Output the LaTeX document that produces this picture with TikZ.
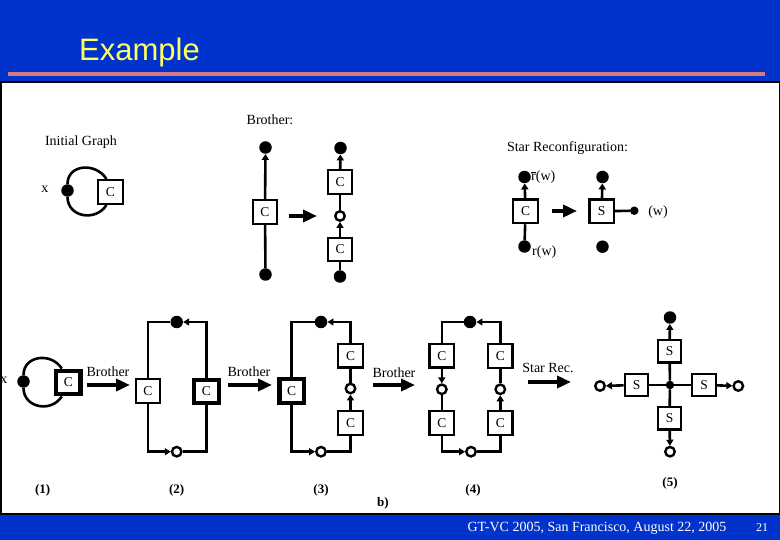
\documentclass[tikz,border=0pt]{standalone}
\usepackage{fontspec}
\setmainfont{Liberation Serif}
\newfontfamily\titlefont{Liberation Sans}
\usetikzlibrary{arrows.meta}
\definecolor{slideblue}{RGB}{0,51,204}
\definecolor{titleyellow}{RGB}{255,255,102}
\definecolor{pinkline}{RGB}{214,122,130}
\begin{document}
\begin{tikzpicture}[x=1pt,y=-1pt,
  lbl/.style={font=\fontsize{14}{16}\selectfont, inner sep=0pt},
  num/.style={font=\fontsize{13}{15}\selectfont\bfseries, inner sep=0pt},
  box/.style={draw, line width=2.4pt, fill=white, minimum width=24.5pt, minimum height=23.5pt, inner sep=0pt, font=\fontsize{13.5}{15}\selectfont},
  tbox/.style={box, line width=4.2pt},
  sbox/.style={box, minimum width=23.5pt, minimum height=22.5pt},
  bdot/.style={circle, fill=black, inner sep=0pt, minimum size=12.5pt},
  sdot/.style={circle, fill=black, inner sep=0pt, minimum size=8.5pt},
  odot/.style={circle, draw, line width=2.4pt, fill=white, inner sep=0pt, minimum size=9.5pt},
  edge/.style={line width=2.6pt},
  arr/.style={edge, -{Triangle[length=6pt,width=7pt]}},
  bigarr/.style={line width=4pt, -{Triangle[length=14pt,width=12pt]}},
]
\useasboundingbox (0,0) rectangle (780,540);
% slide background
\fill[slideblue] (0,0) rectangle (780,540);
\fill[pinkline] (8,72.5) rectangle (765,76.5);
\draw[line width=1.5pt, fill=white] (0.75,82) rectangle (779.25,514);
\node[anchor=base west, text=titleyellow, font=\titlefont\fontsize{31}{34}\selectfont, inner sep=0pt] (title) at (79,61) {Example};
\node[anchor=base, text=white, font=\fontsize{14}{16}\selectfont, inner sep=0pt] (footer) at (597,531) {GT-VC 2005, San Francisco, August 22, 2005};
\node[anchor=base, text=white, font=\fontsize{12}{14}\selectfont, inner sep=0pt] (pageno) at (762,531) {21};

% ---------- Initial graph ----------
\node[lbl] (iglabel) at (81,142) {Initial Graph};
\node[lbl] (igx) at (45,189) {x};
\node[bdot] (igdot) at (67.5,190.5) {};
\node[box] (igc) at (110.5,192) {C};
\draw[edge] (igdot) to[out=90,in=122,looseness=1.3] ([xshift=-4pt]igc.north);
\draw[edge] (igdot) to[out=-90,in=-122,looseness=1.3] ([xshift=-4pt]igc.south);

% ---------- Brother rule ----------
\node[lbl] (brlabel) at (270,120) {Brother:};
\node[bdot] (b1top) at (265.5,147.5) {};
\node[box] (b1c) at (265,212) {C};
\node[bdot] (b1bot) at (265.5,274.5) {};
\draw[arr] (b1c) -- (b1top);
\draw[edge] (b1c) -- (b1bot);
\coordinate (a1s) at (289,216);
\coordinate (a1e) at (317,216);
\draw[bigarr] (a1s) -- (a1e);
\node[bdot] (b2top) at (340.5,148) {};
\node[box] (b2c1) at (340,182) {C};
\node[odot] (b2o) at (340,216) {};
\node[box] (b2c2) at (340,249.5) {C};
\node[bdot] (b2bot) at (340,276.5) {};
\draw[arr] (b2c1) -- (b2top);
\draw[edge] (b2c1) -- (b2o);
\draw[arr] (b2c2) -- (b2o);
\draw[edge] (b2c2) -- (b2bot);

% ---------- Star reconfiguration rule ----------
\node[lbl] (srlabel) at (567.5,148) {Star Reconfiguration:};
\node[bdot] (s1top) at (524.5,177) {};
\node[lbl, anchor=west] (s1toplbl) at (531,177) {$\overline{\mbox{r}}$(w)};
\node[box] (s1c) at (525.5,211.3) {C};
\node[bdot] (s1bot) at (524.5,246.5) {};
\node[lbl, anchor=west] (s1botlbl) at (532,252) {r(w)};
\draw[arr] (s1c) -- (s1top);
\draw[edge] (s1c) -- (s1bot);
\coordinate (a2s) at (552,211);
\coordinate (a2e) at (577,211);
\draw[bigarr] (a2s) -- (a2e);
\node[box] (s2c) at (601.7,211.3) {S};
\node[bdot] (s2top) at (602.5,177) {};
\node[sdot] (s2w) at (634.3,210.7) {};
\node[lbl] (s2wlbl) at (658,212) {(w)};
\node[bdot] (s2bot) at (602.5,246.7) {};
\draw[arr] (s2c) -- (s2top);
\draw[edge] (s2c) -- (s2w);

% ---------- (1) ----------
\node[lbl] (p1x) at (4,380) {x};
\node[bdot] (p1dot) at (23.5,381.5) {};
\node[tbox] (p1c) at (68.3,382.5) {C};
\draw[edge] (p1dot) to[out=90,in=122,looseness=1.3] ([xshift=-6.5pt]p1c.north);
\draw[edge] (p1dot) to[out=-90,in=-122,looseness=1.3] ([xshift=-6.5pt]p1c.south);
\node[num] (n1) at (42.7,490) {(1)};
\node[lbl] (t1) at (108,372) {Brother};
\coordinate (a3s) at (87,385);
\coordinate (a3e) at (130,385);
\draw[bigarr] (a3s) -- (a3e);

% ---------- (2) ----------
\node[box] (p2c1) at (148,391) {C};
\node[tbox] (p2c2) at (206.5,391.5) {C};
\node[bdot] (p2top) at (176.7,322) {};
\node[odot] (p2bot) at (176.7,451.7) {};
\draw[edge] (p2c1) |- (p2top);
\draw[arr] (p2c2) |- (p2top);
\draw[arr] (p2c1) |- (p2bot);
\draw[edge] (p2c2) |- (p2bot);
\node[num] (n2) at (176.7,490) {(2)};
\node[lbl] (t2) at (249,372) {Brother};
\coordinate (a4s) at (228,385);
\coordinate (a4e) at (272,385);
\draw[bigarr] (a4s) -- (a4e);

% ---------- (3) ----------
\node[tbox] (p3c) at (291.7,391) {C};
\node[box] (p3c1) at (350.5,355.8) {C};
\node[odot] (p3o) at (350.5,388.5) {};
\node[box] (p3c2) at (350.5,423) {C};
\node[bdot] (p3top) at (321,322) {};
\node[odot] (p3bot) at (321,451.7) {};
\draw[edge] (p3c) |- (p3top);
\draw[arr] (p3c1) |- (p3top);
\draw[arr] (p3c) |- (p3bot);
\draw[edge] (p3c2) |- (p3bot);
\draw[edge] (p3c1) -- (p3o);
\draw[arr] (p3c2) -- (p3o);
\node[num] (n3) at (321,490) {(3)};
\node[lbl] (t3) at (394,372.7) {Brother};
\coordinate (a5s) at (373,385);
\coordinate (a5e) at (415,385);
\draw[bigarr] (a5s) -- (a5e);

% ---------- (4) ----------
\node[box] (p4l1) at (441.8,355.8) {C};
\node[odot] (p4lo) at (441.8,389.3) {};
\node[box] (p4l2) at (441.8,423) {C};
\node[box] (p4r1) at (500.3,356) {C};
\node[odot] (p4ro) at (500.3,389.3) {};
\node[box] (p4r2) at (500.3,423) {C};
\node[bdot] (p4top) at (470,322) {};
\node[odot] (p4bot) at (471,451.7) {};
\draw[edge] (p4l1) |- (p4top);
\draw[arr] (p4r1) |- (p4top);
\draw[arr] (p4l2) |- (p4bot);
\draw[edge] (p4r2) |- (p4bot);
\draw[arr] (p4l1) -- (p4lo);
\draw[edge] (p4l2) -- (p4lo);
\draw[arr] (p4r2) -- (p4ro);
\draw[edge] (p4r1) -- (p4ro);
\node[num] (n4) at (473,490) {(4)};
\node[num] (nb) at (383,503) {b)};
\node[lbl] (t4) at (548,368) {Star Rec.};
\coordinate (a6s) at (528,382);
\coordinate (a6e) at (571,382);
\draw[bigarr] (a6s) -- (a6e);

% ---------- (5) ----------
\node[sdot] (p5ctr) at (670,385) {};
\node[sbox] (p5t) at (669.5,351.3) {S};
\node[sbox] (p5l) at (636.5,385) {S};
\node[sbox] (p5r) at (704,385) {S};
\node[sbox] (p5b) at (669.5,418.3) {S};
\node[bdot] (p5tdot) at (670,317.5) {};
\node[odot] (p5lo) at (600,386) {};
\node[odot] (p5ro) at (738.3,386) {};
\node[odot] (p5bo) at (670,451.7) {};
\draw[edge] (p5ctr) -- (p5t);
\draw[edge] (p5ctr) -- (p5l);
\draw[edge] (p5ctr) -- (p5r);
\draw[edge] (p5ctr) -- (p5b);
\draw[arr] (p5t) -- (p5tdot);
\draw[arr] (p5l) -- (p5lo);
\draw[arr] (p5r) -- (p5ro);
\draw[arr] (p5b) -- (p5bo);
\node[num] (n5) at (670,483.3) {(5)};
\end{tikzpicture}
\end{document}
